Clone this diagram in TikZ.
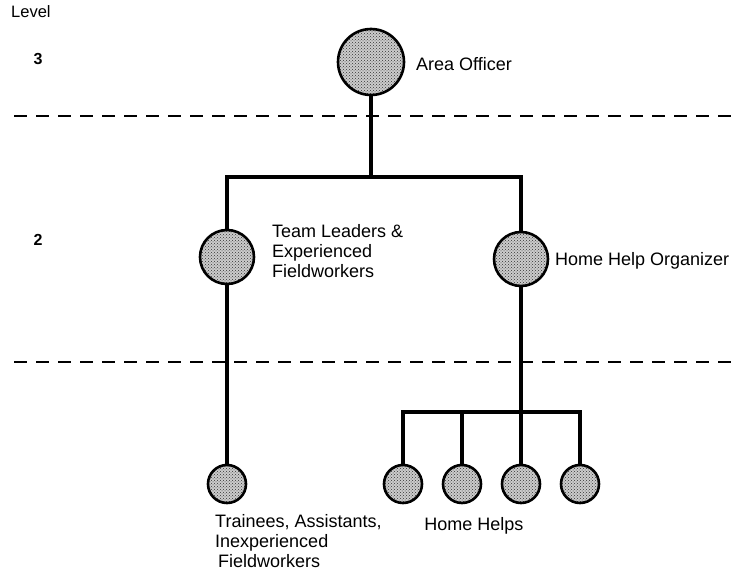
\documentclass[tikz,border=0pt]{standalone}
\usepackage{fontspec}
\setmainfont{Liberation Sans}
\usetikzlibrary{patterns}
\begin{document}
\begin{tikzpicture}[x=1pt,y=-1pt,
  post/.style={circle,draw=black,line width=2.6pt,
    preaction={fill=black!20},pattern=crosshatch dots,pattern color=black!80,inner sep=0pt},
  big/.style={post,minimum size=66pt},
  mid/.style={post,minimum size=54pt},
  small/.style={post,minimum size=38pt},
  conn/.style={line width=3.6pt},
  divider/.style={line width=1.4pt,dash pattern=on 13pt off 9pt},
  lbl/.style={font=\fontsize{18}{20}\selectfont,inner sep=0pt,align=left},
  lvl/.style={font=\fontsize{16}{18}\selectfont\bfseries,inner sep=0pt}]
\useasboundingbox (0,0) rectangle (736,572);

% level column
\node[lvl,font=\fontsize{16.5}{18}\selectfont,anchor=west] (level) at (11,12) {Level};
\node[lvl] (l3) at (38,59) {3};
\node[lvl] (l2) at (38,240) {2};

% level dividers
\coordinate (d1a) at (14,116);
\coordinate (d1b) at (736,116);
\coordinate (d2a) at (14,362);
\coordinate (d2b) at (736,362);
\draw[divider] (d1a) -- (d1b);
\draw[divider] (d2a) -- (d2b);

% posts
\node[big] (ao) at (371,62) {};
\node[mid] (tl) at (227,257) {};
\node[mid] (hho) at (521,259) {};
\node[small] (tr) at (227,484) {};
\node[small] (h1) at (403,484) {};
\node[small] (h2) at (462,484) {};
\node[small] (h3) at (521,484) {};
\node[small] (h4) at (580,484) {};

% labels
\node[lbl,anchor=west] (aol) at (416,64) {Area Officer};
\node[lbl,anchor=north west] (tll) at (272,224) {Team Leaders \&\\Experienced\\Fieldworkers};
\node[lbl,anchor=west] (hhol) at (555,261) {Home Help Organizer};
\node[lbl,anchor=north west] (trl) at (215,514) {Trainees, Assistants,\\Inexperienced\\\hspace*{3pt}Fieldworkers};
\node[lbl] (hhl) at (474,526) {Home Helps};

% connectors
\coordinate (bar1) at (371,177);
\coordinate (bar2) at (521,412);
\draw[conn] (ao) -- (bar1);
\draw[conn] (tl) |- (bar1) -| (hho);
\draw[conn] (tl) -- (tr);
\draw[conn] (hho) -- (h3);
\draw[conn] (h1) |- (bar2) -| (h4);
\draw[conn] (h2) -- (h2 |- bar2);
\end{tikzpicture}
\end{document}
